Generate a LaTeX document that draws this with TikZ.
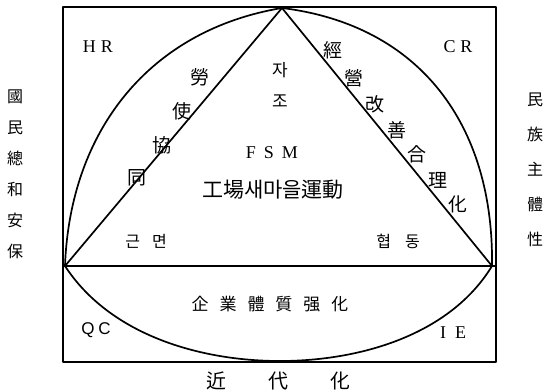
\documentclass[tikz,border=0pt]{standalone}
\usepackage{fontspec}
\setmainfont{Liberation Serif}
\newfontfamily\cjk{Noto Sans CJK KR}
\newfontfamily\lsans{Liberation Sans}
\newcommand{\gp}[1]{\hspace{#1pt}}
\begin{document}
\begin{tikzpicture}[x=1pt,y=-1pt,
  frame/.style={line width=1.7pt,line cap=round,line join=round},
  lat/.style={inner sep=0pt,font=\fontsize{18}{20}\selectfont},
  latsans/.style={inner sep=0pt,font=\lsans\fontsize{17}{19}\selectfont},
  diag/.style={inner sep=0pt,font=\cjk\fontsize{19}{20}\selectfont},
  lab/.style={inner sep=0pt,font=\cjk\fontsize{16}{18}\selectfont},
  big/.style={inner sep=0pt,font=\cjk\fontsize{20}{22}\selectfont},
  col/.style={inner sep=0pt,align=center,font=\cjk\fontsize{16}{31}\selectfont}]
\useasboundingbox (0,0) rectangle (546,391);
% geometry
\coordinate (TL) at (63,7);
\coordinate (BR) at (496,362);
\coordinate (ML) at (63,266);
\coordinate (MR) at (496,266);
\coordinate (A) at (282,8);
\coordinate (L) at (65,266);
\coordinate (R) at (492,266);
\coordinate (B) at (280,361);
\draw[frame] (TL) rectangle (BR);
\draw[frame] (ML) -- (MR);
\draw[frame] (L) -- (A) -- (R);
\draw[frame] (L) .. controls (70,130) and (150,30) .. (A);
\draw[frame] (R) .. controls (494,125) and (420,25) .. (A);
\draw[frame] (L) .. controls (110,335) and (200,361) .. (B);
\draw[frame] (R) .. controls (450,335) and (360,361) .. (B);
% corner labels
\node[lat] (hr) at (98,47) {H\gp{5}R};
\node[lat] (cr) at (458,47) {C\gp{5}R};
\node[latsans] (qc) at (96,330) {Q\gp{4}C};
\node[lat] (ie) at (453,333) {I\gp{9}E};
% centre
\node[lab,font=\cjk\fontsize{17}{18}\selectfont] (ja) at (280,70) {자};
\node[lab,font=\cjk\fontsize{17}{18}\selectfont] (jo) at (280,101) {조};
\node[lat] (fsm) at (272,153) {F\gp{8}S\gp{8}M};
\node[inner sep=0pt,font=\cjk\fontsize{21}{22}\selectfont] (fac) at (273,190) {工場새마을運動};
\node[lab] (gm) at (146,241) {근\gp{12}면};
\node[lab] (hd) at (398,241) {협\gp{14}동};
\node[lab,font=\cjk\fontsize{17}{18}\selectfont] (ent) at (270,304) {企\gp{11}業\gp{11}體\gp{11}質\gp{11}强\gp{11}化};
% left diagonal
\node[diag] (l1) at (200,77) {勞};
\node[diag] (l2) at (182,111) {使};
\node[diag] (l3) at (162,145) {協};
\node[diag] (l4) at (137,178) {同};
% right diagonal
\node[diag] (r1) at (333,50) {經};
\node[diag] (r2) at (354,78) {營};
\node[diag] (r3) at (375,104) {改};
\node[diag] (r4) at (397,130) {善};
\node[diag] (r5) at (417,154) {合};
\node[diag] (r6) at (438,180) {理};
\node[diag] (r7) at (458,204) {化};
% side columns
\node[col] (leftcol) at (15,174) {國\\民\\總\\和\\安\\保};
\node[col,font=\cjk\fontsize{16}{35}\selectfont] (rightcol) at (535,170) {民\\族\\主\\體\\性};
% bottom
\node[big] (b1) at (216,381) {近};
\node[big] (b2) at (278,381) {代};
\node[big] (b3) at (340,381) {化};
\end{tikzpicture}
\end{document}
